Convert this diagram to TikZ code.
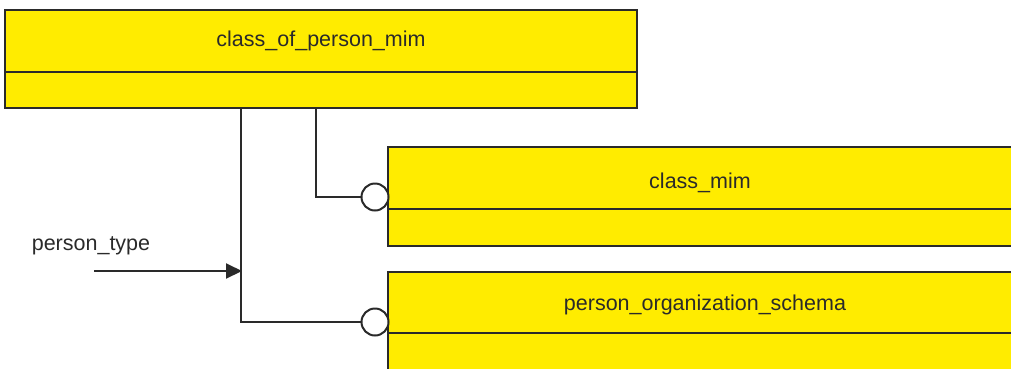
\documentclass[tikz,border=0pt]{standalone}
\usepackage{fontspec}
\setmainfont{Liberation Sans}
\usetikzlibrary{arrows.meta}
\definecolor{boxyellow}{HTML}{FFEC00}
\definecolor{ink}{HTML}{2A2A2A}
\begin{document}
\begin{tikzpicture}[x=1pt,y=-1pt,
  entity/.style={draw=ink,line width=2pt,fill=boxyellow,rectangle,inner sep=0pt},
  divider/.style={draw=ink,line width=2pt},
  conn/.style={draw=ink,line width=2pt},
  lbl/.style={inner sep=0pt,font=\fontsize{21.5}{24}\selectfont,text=ink},
  ring/.style={draw=ink,line width=2pt,fill=white,circle,minimum size=27pt,inner sep=0pt}]
\useasboundingbox (0,0) rectangle (1011,368);
% top entity
\node[entity,minimum width=632pt,minimum height=98pt] (cop) at (321,59) {};
\draw[divider] (5,72) -- (637,72);
\node[lbl] (copt) at (321,41) {class\_of\_person\_mim};
% class_mim entity
\node[entity,minimum width=630pt,minimum height=99pt] (cm) at (703,196.5) {};
\draw[divider] (388,209) -- (1018,209);
\node[lbl] (cmt) at (700,183) {class\_mim};
% person_organization_schema entity
\node[entity,minimum width=630pt,minimum height=110pt] (pos) at (703,327) {};
\draw[divider] (388,333) -- (1018,333);
\node[lbl] (post) at (705,305) {person\_organization\_schema};
% rings
\node[ring] (r1) at (375,197) {};
\node[ring] (r2) at (375,322) {};
% connectors
\coordinate (c1) at (316,108);
\coordinate (c2) at (241,108);
\draw[conn] (c1) |- (r1.west);
\draw[conn] (c2) |- (r2.west);
% input arrow
\node[lbl] (pt) at (91,246) {person\_type};
\coordinate (ps) at (94,271);
\coordinate (pe) at (242,271);
\draw[conn,-{Triangle[length=16pt,width=15pt]}] (ps) -- (pe);
\end{tikzpicture}
\end{document}
